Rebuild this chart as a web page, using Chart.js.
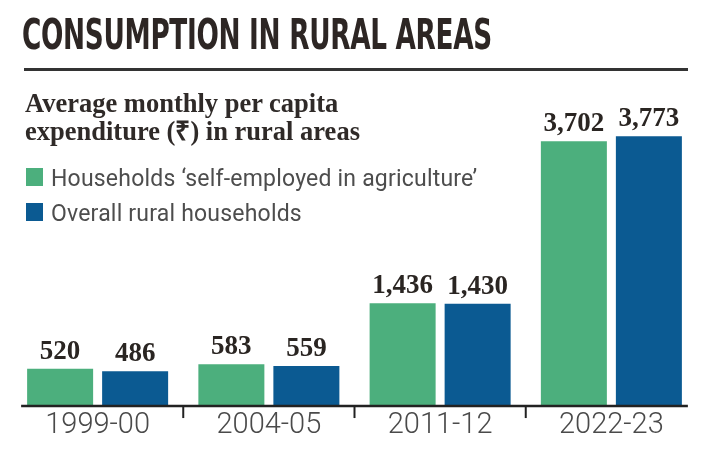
<!DOCTYPE html>
<html>
<head>
<meta charset="utf-8">
<script src="https://cdn.jsdelivr.net/npm/chart.js@4"></script>
<style>
  html, body { margin: 0; padding: 0; background: #fff; }
  #wrap { position: relative; width: 704px; height: 463px; overflow: hidden; }
  #chart { position: absolute; left: 0; top: 0; }
  .title {
    position: absolute; left: 22px; top: 12.6px; margin: 0;
    font: bold 43px/43px 'DejaVu Sans', sans-serif; color: #2d2624;
    white-space: nowrap; transform-origin: 0 0; letter-spacing: -0.5px;
  }
  .rule { position: absolute; left: 24px; top: 68px; width: 664px; height: 2.5px; background: #333; }
  .subtitle {
    position: absolute; left: 25px; top: 89px; margin: 0;
    font: bold 26.5px/28px 'Liberation Serif', serif; color: #2f2a28;
  }
  .legend { position: absolute; left: 26px; top: 0; }
  .legend-row { position: absolute; left: 0; white-space: nowrap; font: 400 23px/22px Roboto, sans-serif; letter-spacing: 0.2px; color: #4d4d4d; }
  .legend-row i { position: absolute; left: 0; top: 0.5px; width: 17px; height: 18px; }
  .legend-row span { position: absolute; left: 25px; top: 0; }
</style>
</head>
<body>
<div id="wrap">
  <canvas id="chart" width="704" height="463"></canvas>
  <h1 class="title" id="title">CONSUMPTION IN RURAL AREAS</h1>
  <div class="rule"></div>
  <p class="subtitle">Average monthly per capita<br>expenditure (₹) in rural areas</p>
  <div class="legend" id="legend"></div>
</div>
<script>
const categories = ['1999-00', '2004-05', '2011-12', '2022-23'];
const selfEmployedAgri = [520, 583, 1436, 3702];
const overallRural = [486, 559, 1430, 3773];
const seriesNames = ["Households \u2018self-employed in agriculture\u2019", 'Overall rural households'];
const seriesColors = ['#4caf7d', '#0b5a92'];

// squeeze the headline into its condensed width
const titleEl = document.getElementById('title');
titleEl.style.transform = 'scaleX(' + (470 / titleEl.scrollWidth) + ')';

// legend rows
const legendEl = document.getElementById('legend');
const legendTops = [167.5, 202.5];
seriesNames.forEach((name, i) => {
    const row = document.createElement('div');
    row.className = 'legend-row';
    row.style.top = legendTops[i] + 'px';
    row.innerHTML = '<i style="background:' + seriesColors[i] + '"></i><span></span>';
    row.querySelector('span').textContent = name;
    legendEl.appendChild(row);
});

// baseline, separator ticks and value labels
const barExtras = {
    id: 'barExtras',
    afterDatasetsDraw(chart) {
        const ctx = chart.ctx;
        const x = chart.scales.x;
        const bottom = chart.chartArea.bottom;
        const first = chart.getDatasetMeta(0).data[0];
        const lastMeta = chart.getDatasetMeta(chart.data.datasets.length - 1).data;
        const last = lastMeta[lastMeta.length - 1];

        ctx.save();
        ctx.strokeStyle = '#222';
        ctx.lineWidth = 2.5;
        ctx.beginPath();
        ctx.moveTo(first.x - first.width / 2 - 6, bottom);
        ctx.lineTo(last.x + last.width / 2 + 6, bottom);
        ctx.stroke();

        ctx.lineWidth = 2;
        for (let i = 1; i < categories.length; i++) {
            const px = (x.getPixelForTick(i - 1) + x.getPixelForTick(i)) / 2;
            ctx.beginPath();
            ctx.moveTo(px, bottom);
            ctx.lineTo(px, bottom + 12);
            ctx.stroke();
        }

        ctx.font = 'bold 27px "Liberation Serif", serif';
        ctx.fillStyle = '#2a2522';
        ctx.textAlign = 'center';
        ctx.textBaseline = 'alphabetic';
        chart.data.datasets.forEach((ds, di) => {
            chart.getDatasetMeta(di).data.forEach((bar, i) => {
                ctx.fillText(ds.data[i].toLocaleString('en-US'), bar.x, bar.y - 10);
            });
        });
        ctx.restore();
    }
};

new Chart(document.getElementById('chart'), {
    type: 'bar',
    data: {
        labels: categories,
        datasets: [
            { label: seriesNames[0], data: selfEmployedAgri, backgroundColor: seriesColors[0] },
            { label: seriesNames[1], data: overallRural, backgroundColor: seriesColors[1] }
        ]
    },
    options: {
        responsive: false,
        animation: false,
        layout: { padding: { top: 100, left: 12, right: 7, bottom: 17.6 } },
        categoryPercentage: 0.876,
        barPercentage: 0.88,
        plugins: { legend: { display: false }, tooltip: { enabled: false } },
        scales: {
            y: { display: false, min: 0, max: 4280 },
            x: {
                border: { display: false },
                grid: { display: false, drawTicks: false },
                ticks: {
                    padding: 3,
                    color: '#4a4a4a',
                    font: { family: 'Roboto', weight: 300, size: 29, lineHeight: 1.15 }
                }
            }
        }
    },
    plugins: [barExtras]
});
</script>
</body>
</html>
